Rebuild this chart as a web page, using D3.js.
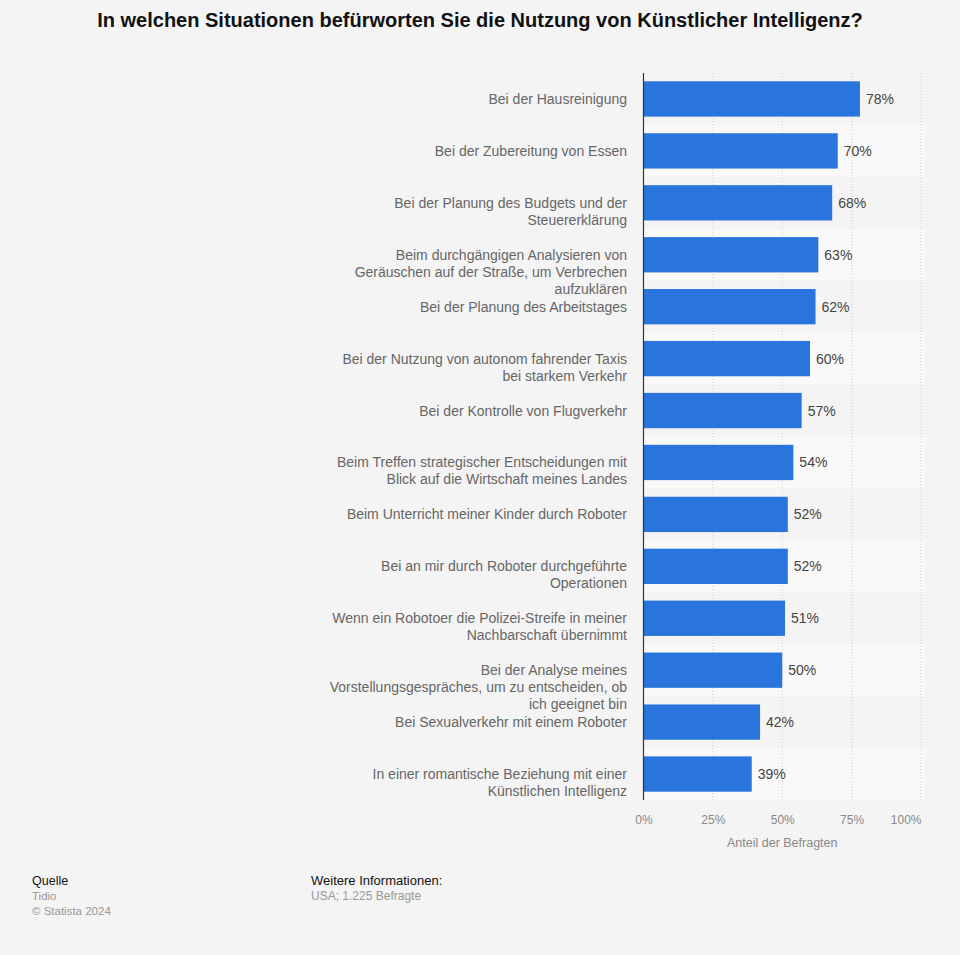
<!DOCTYPE html>
<html><head><meta charset="utf-8">
<script src="https://cdn.jsdelivr.net/npm/d3@7"></script>
<style>
body{margin:0;background:#f4f4f4;font-family:"Liberation Sans",Arial,sans-serif;}
</style></head>
<body>
<svg id="chart" width="960" height="955"></svg>
<script>
const title = "In welchen Situationen befürworten Sie die Nutzung von Künstlicher Intelligenz?";
const categories = [
  ["Bei der Hausreinigung"],
  ["Bei der Zubereitung von Essen"],
  ["Bei der Planung des Budgets und der", "Steuererklärung"],
  ["Beim durchgängigen Analysieren von", "Geräuschen auf der Straße, um Verbrechen", "aufzuklären"],
  ["Bei der Planung des Arbeitstages"],
  ["Bei der Nutzung von autonom fahrender Taxis", "bei starkem Verkehr"],
  ["Bei der Kontrolle von Flugverkehr"],
  ["Beim Treffen strategischer Entscheidungen mit", "Blick auf die Wirtschaft meines Landes"],
  ["Beim Unterricht meiner Kinder durch Roboter"],
  ["Bei an mir durch Roboter durchgeführte", "Operationen"],
  ["Wenn ein Robotoer die Polizei-Streife in meiner", "Nachbarschaft übernimmt"],
  ["Bei der Analyse meines", "Vorstellungsgespräches, um zu entscheiden, ob", "ich geeignet bin"],
  ["Bei Sexualverkehr mit einem Roboter"],
  ["In einer romantische Beziehung mit einer", "Künstlichen Intelligenz"]
];
const values = [78, 70, 68, 63, 62, 60, 57, 54, 52, 52, 51, 50, 42, 39];
const xTicks = [0, 25, 50, 75, 100];
const xAxisTitle = "Anteil der Befragten";

(function(){
const svg = d3.select("#chart");
svg.append("rect").attr("width",960).attr("height",955).attr("fill","#f4f4f4");

svg.append("text").attr("x",480).attr("y",27).attr("text-anchor","middle")
  .attr("font-size",20).attr("font-weight","bold").attr("fill","#111").text(title);

const pL = 643.5, pR = 921, pT = 73, pB = 800;
const idx = d3.range(values.length);
const x = d3.scaleLinear().domain([0,100]).range([pL,pR]);
const y = d3.scaleBand().domain(idx).range([pT,pB]).paddingInner(0.32).paddingOuter(0.16);

// row bands
svg.append("g").selectAll("rect").data(idx).join("rect")
  .attr("x", pL).attr("width", pR - pL + 4)
  .attr("y", d => y(d) - y.step()*y.paddingOuter())
  .attr("height", y.step())
  .attr("fill", d => d % 2 === 0 ? "#f4f4f4" : "#f9f9f9");

// grid
svg.append("g").selectAll("line").data(xTicks.slice(1)).join("line")
  .attr("x1", d => x(d)).attr("x2", d => x(d)).attr("y1", pT).attr("y2", pB)
  .attr("stroke","#cfcfcf").attr("stroke-width",1).attr("stroke-dasharray","1,2");

// bars
svg.append("g").selectAll("rect").data(idx).join("rect")
  .attr("x", x(0)).attr("y", d => y(d)).attr("height", y.bandwidth())
  .attr("width", d => x(values[d]) - x(0)).attr("fill","#2a75dd");

// value labels
svg.append("g").selectAll("text").data(idx).join("text")
  .attr("x", d => x(values[d]) + 6).attr("y", d => y(d) + y.bandwidth()/2 + 5)
  .attr("font-size",14).attr("fill","#444").text(d => values[d] + "%");

// category labels
const lab = svg.append("g").selectAll("text").data(idx).join("text")
  .attr("text-anchor","end").attr("font-size",14).attr("fill","#666")
  .attr("y", d => y(d) + y.bandwidth()/2 + 5);
lab.selectAll("tspan").data(d => categories[d]).join("tspan")
  .attr("x", 627).attr("dy", (d,i) => i === 0 ? 0 : 17).text(d => d);

// y axis line
svg.append("line").attr("x1",pL).attr("x2",pL).attr("y1",pT).attr("y2",pB)
  .attr("stroke","#333").attr("stroke-width",1.2);

// x axis
const xAxis = d3.axisBottom(x).tickValues(xTicks).tickFormat(d => d + "%").tickSize(0).tickPadding(0);
const gx = svg.append("g").attr("transform",`translate(0,${pB+15})`).call(xAxis);
gx.select(".domain").remove();
gx.selectAll("text").attr("font-size",12).attr("fill","#888").attr("font-family","Liberation Sans, Arial, sans-serif").attr("dy","0.71em")
  .attr("text-anchor", d => d === 100 ? "end" : "middle");

svg.append("text").attr("x", x(50)).attr("y", 847).attr("text-anchor","middle")
  .attr("font-size",12.5).attr("fill","#888").text(xAxisTitle);

// footer
const foot = [
  {x:32, y:885, t:"Quelle", c:"#111", s:12.5},
  {x:32, y:900, t:"Tidio", c:"#999", s:11.5},
  {x:32, y:915, t:"© Statista 2024", c:"#999", s:11.5},
  {x:311, y:885, t:"Weitere Informationen:", c:"#111", s:13},
  {x:311, y:900, t:"USA; 1.225 Befragte", c:"#999", s:12}
];
svg.append("g").selectAll("text").data(foot).join("text")
  .attr("x", d => d.x).attr("y", d => d.y).attr("font-size", d => d.s).attr("fill", d => d.c).text(d => d.t);
})();
</script>
</body></html>
